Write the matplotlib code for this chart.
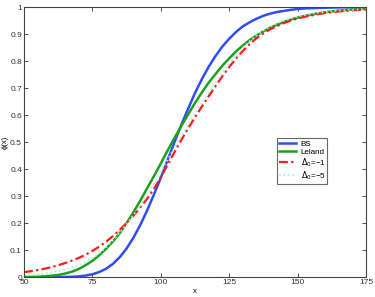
import numpy as np
import matplotlib
matplotlib.use("Agg")
import matplotlib.pyplot as plt

plt.rcParams['font.family'] = ['Liberation Sans', 'DejaVu Sans']

# x grid, step 2.5 from 50 to 175
x = np.arange(50, 175.1, 2.5)

bs = [0.0, 0.0, 0.0, 0.0, 0.0001, 0.0002, 0.0005, 0.0012,
      0.0027, 0.0056, 0.0104, 0.0188, 0.031, 0.049, 0.074, 0.106,
      0.146, 0.193, 0.247, 0.306, 0.368, 0.434, 0.50, 0.564,
      0.624, 0.682, 0.733, 0.779, 0.819, 0.854, 0.883, 0.908,
      0.929, 0.944, 0.957, 0.968, 0.976, 0.982, 0.986, 0.990,
      0.993, 0.995, 0.996, 0.997, 0.998, 0.9985, 0.999, 0.9993,
      0.9995, 0.9997, 0.9998]

leland = [0.0, 0.0005, 0.001, 0.003, 0.005, 0.008, 0.013, 0.02,
          0.03, 0.044, 0.06, 0.081, 0.105, 0.132, 0.163, 0.200,
          0.240, 0.283, 0.329, 0.374, 0.421, 0.469, 0.515, 0.560,
          0.603, 0.645, 0.684, 0.720, 0.752, 0.783, 0.810, 0.836,
          0.858, 0.878, 0.895, 0.910, 0.924, 0.935, 0.945, 0.954,
          0.961, 0.967, 0.972, 0.977, 0.981, 0.984, 0.987, 0.989,
          0.991, 0.993, 0.994]

delta1 = [0.018, 0.022, 0.026, 0.031, 0.037, 0.044, 0.052, 0.061,
          0.071, 0.083, 0.097, 0.113, 0.131, 0.152, 0.175, 0.200,
          0.228, 0.258, 0.290, 0.327, 0.370, 0.416, 0.463, 0.508,
          0.551, 0.592, 0.632, 0.670, 0.707, 0.744, 0.778, 0.810,
          0.838, 0.863, 0.885, 0.903, 0.918, 0.930, 0.941, 0.950,
          0.958, 0.964, 0.969, 0.974, 0.978, 0.981, 0.984, 0.986,
          0.988, 0.990, 0.991]

delta5 = [0.006, 0.008, 0.010, 0.013, 0.017, 0.022, 0.028, 0.036,
          0.045, 0.056, 0.070, 0.088, 0.110, 0.136, 0.165, 0.196,
          0.230, 0.266, 0.305, 0.346, 0.390, 0.435, 0.480, 0.523,
          0.565, 0.606, 0.645, 0.683, 0.720, 0.756, 0.790, 0.821,
          0.850, 0.874, 0.895, 0.913, 0.928, 0.940, 0.950, 0.958,
          0.965, 0.970, 0.975, 0.979, 0.982, 0.985, 0.987, 0.989,
          0.990, 0.992, 0.993]

fig = plt.figure(figsize=(3.75, 2.97), dpi=100)
ax = fig.add_axes([0.064, 0.067, 0.912, 0.909])

ax.plot(x, bs, color="#2e4ef5", lw=1.8, label="BS")
ax.plot(x, leland, color="#1fa01f", lw=1.8, label="Leland")
ax.plot(x, delta1, color="#ff1a1a", lw=1.6, ls=(0, (4, 1.5, 1, 1.5)),
        label="$\\Delta_0$=\u22121")
ax.plot(x, delta5, color="#9ff5d2", lw=1.2, ls=":", label="$\\Delta_0$=\u22125")

ax.set_xlim(50, 175)
ax.set_ylim(0, 1)
ax.set_xticks([50, 75, 100, 125, 150, 175])
ax.set_yticks(np.arange(0, 1.01, 0.1))
ax.set_yticklabels(["0", "0.1", "0.2", "0.3", "0.4", "0.5", "0.6", "0.7",
                    "0.8", "0.9", "1"])
ax.tick_params(direction="in", top=True, right=True, labelsize=6,
               length=3, width=0.6, colors="#333333", pad=1.5)
for s in ax.spines.values():
    s.set_linewidth(0.8)
    s.set_color("#444444")

ax.set_xlabel("x", fontsize=5.5, labelpad=1)
ax.set_ylabel("\u03d5(x)", fontsize=5.5, labelpad=1)

leg = ax.legend(loc="upper left", bbox_to_anchor=(0.739, 0.515), fontsize=5.8,
                frameon=True, fancybox=False, handlelength=2.2,
                borderpad=0.25, labelspacing=0.05, handletextpad=0.5,
                borderaxespad=0)
leg.get_frame().set_edgecolor("#444444")
leg.get_frame().set_linewidth(0.8)

fig.savefig("out.png", dpi=100)
